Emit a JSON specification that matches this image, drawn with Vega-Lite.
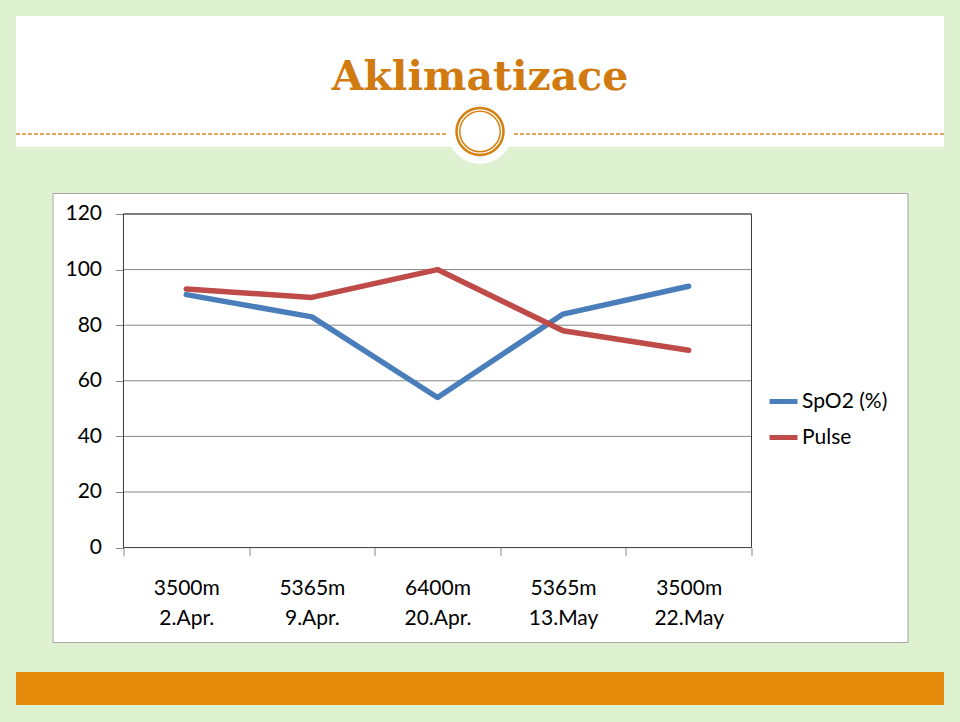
{
  "$schema": "https://vega.github.io/schema/vega-lite/v6.json",
  "background": "#DEF1D0",
  "padding": {"left": 15, "top": 16, "right": 17, "bottom": 17},
  "autosize": {"type": "pad"},
  "bounds": "flush",
  "spacing": 46,
  "config": {"view": {"stroke": null}, "font": "Lato"},
  "datasets": {
    "series": [
      {"idx": 0, "altitude": "3500m", "date": "2.Apr.", "series": "SpO2 (%)", "value": 91},
      {"idx": 1, "altitude": "5365m", "date": "9.Apr.", "series": "SpO2 (%)", "value": 83},
      {"idx": 2, "altitude": "6400m", "date": "20.Apr.", "series": "SpO2 (%)", "value": 54},
      {"idx": 3, "altitude": "5365m", "date": "13.May", "series": "SpO2 (%)", "value": 84},
      {"idx": 4, "altitude": "3500m", "date": "22.May", "series": "SpO2 (%)", "value": 94},
      {"idx": 0, "altitude": "3500m", "date": "2.Apr.", "series": "Pulse", "value": 93},
      {"idx": 1, "altitude": "5365m", "date": "9.Apr.", "series": "Pulse", "value": 90},
      {"idx": 2, "altitude": "6400m", "date": "20.Apr.", "series": "Pulse", "value": 100},
      {"idx": 3, "altitude": "5365m", "date": "13.May", "series": "Pulse", "value": 78},
      {"idx": 4, "altitude": "3500m", "date": "22.May", "series": "Pulse", "value": 71}
    ],
    "grid": [{"value": 20}, {"value": 40}, {"value": 60}, {"value": 80}, {"value": 100}, {"value": 120}]
  },
  "vconcat": [
    {
      "width": 928,
      "height": 131,
      "view": {"fill": "white", "stroke": null},
      "data": {"values": [{}]},
      "layer": [
        {
          "mark": {"type": "rule", "stroke": "#D98A2B", "strokeDash": [4, 2], "strokeWidth": 1.5},
          "encoding": {
            "x": {"datum": 0, "type": "quantitative", "scale": {"domain": [0, 1], "nice": false, "zero": false}, "axis": null},
            "x2": {"datum": 1},
            "y": {"datum": 0.099, "type": "quantitative", "scale": {"domain": [0, 1], "nice": false, "zero": false}, "axis": null}
          }
        },
        {
          "mark": {"type": "point", "filled": true, "fill": "white", "opacity": 1, "size": 4200, "strokeWidth": 0},
          "encoding": {
            "x": {"datum": 0.5, "type": "quantitative", "scale": {"domain": [0, 1], "nice": false, "zero": false}, "axis": null},
            "y": {"datum": 0.118, "type": "quantitative", "scale": {"domain": [0, 1], "nice": false, "zero": false}, "axis": null}
          }
        },
        {
          "mark": {"type": "point", "filled": false, "stroke": "#D4800F", "opacity": 1, "size": 2209, "strokeWidth": 2.5},
          "encoding": {
            "x": {"datum": 0.5, "type": "quantitative", "scale": {"domain": [0, 1], "nice": false, "zero": false}, "axis": null},
            "y": {"datum": 0.118, "type": "quantitative", "scale": {"domain": [0, 1], "nice": false, "zero": false}, "axis": null}
          }
        },
        {
          "mark": {"type": "point", "filled": false, "stroke": "#D4800F", "opacity": 1, "size": 1640, "strokeWidth": 1.5},
          "encoding": {
            "x": {"datum": 0.5, "type": "quantitative", "scale": {"domain": [0, 1], "nice": false, "zero": false}, "axis": null},
            "y": {"datum": 0.118, "type": "quantitative", "scale": {"domain": [0, 1], "nice": false, "zero": false}, "axis": null}
          }
        },
        {
          "mark": {"type": "text", "text": "Aklimatizace", "font": "DejaVu Serif", "fontWeight": "bold", "fontSize": 41, "color": "#D07A10", "align": "center", "baseline": "middle"},
          "encoding": {
            "x": {"datum": 0.5, "type": "quantitative", "scale": {"domain": [0, 1], "nice": false, "zero": false}, "axis": null},
            "y": {"datum": 0.53, "type": "quantitative", "scale": {"domain": [0, 1], "nice": false, "zero": false}, "axis": null}
          }
        }
      ]
    },
    {
      "bounds": "flush",
      "spacing": 30,
      "center": true,
      "vconcat": [
        {
          "width": 855,
          "height": 449,
          "view": {"fill": "white", "stroke": "#A6A6A6", "strokeWidth": 1},
          "layer": [
            {
              "data": {"name": "grid"},
              "mark": {"type": "rule", "color": "#868686", "strokeWidth": 1},
              "encoding": {
                "x": {"datum": -0.5, "type": "quantitative", "scale": {"domain": [-1.065, 5.742], "nice": false, "zero": false}},
                "x2": {"datum": 4.5},
                "y": {
                  "field": "value", "type": "quantitative",
                  "scale": {"domain": [-33.96, 127.55], "nice": false, "zero": false},
                  "axis": {"values": [0, 20, 40, 60, 80, 100, 120], "offset": -71, "domain": false, "grid": false, "ticks": true, "tickSize": 8, "tickColor": "#868686", "labelPadding": 14, "labelFont": "Lato", "labelFontSize": 21, "labelColor": "#000000", "title": null}
                }
              }
            },
            {
              "data": {"values": [{}]},
              "mark": {"type": "rect", "fill": null, "fillOpacity": 0, "stroke": "#3A3A3A", "strokeWidth": 1},
              "encoding": {
                "x": {"datum": -0.5, "type": "quantitative", "scale": {"domain": [-1.065, 5.742], "nice": false, "zero": false}},
                "x2": {"datum": 4.5},
                "y": {"datum": 0, "type": "quantitative", "scale": {"domain": [-33.96, 127.55], "nice": false, "zero": false}},
                "y2": {"datum": 120}
              }
            },
            {
              "data": {"name": "series"},
              "mark": {"type": "line", "strokeWidth": 5.5, "strokeCap": "round", "strokeJoin": "round"},
              "encoding": {
                "x": {
                  "field": "idx", "type": "quantitative",
                  "scale": {"domain": [-1.065, 5.742], "nice": false, "zero": false},
                  "axis": {
                    "values": [-0.5, 0, 0.5, 1, 1.5, 2, 2.5, 3, 3.5, 4, 4.5],
                    "offset": -94.4, "domain": false, "grid": false, "tickSize": 8, "tickColor": "#868686",
                    "tickOpacity": {"condition": {"test": "datum.value % 1 === 0", "value": 0}, "value": 1},
                    "labelExpr": "datum.value % 1 === 0 ? [['3500m','5365m','6400m','5365m','3500m'][datum.value], ['2.Apr.','9.Apr.','20.Apr.','13.May','22.May'][datum.value]] : ''",
                    "labelFont": "Lato", "labelFontSize": 21, "labelLineHeight": 30, "labelPadding": 22, "labelColor": "#000000",
                    "labelOverlap": false, "labelBound": false, "labelFlush": false, "title": null
                  }
                },
                "y": {
                  "field": "value", "type": "quantitative",
                  "scale": {"domain": [-33.96, 127.55], "nice": false, "zero": false},
                  "axis": {"values": [0, 20, 40, 60, 80, 100, 120], "offset": -71, "domain": false, "grid": false, "ticks": true, "tickSize": 8, "tickColor": "#868686", "labelPadding": 14, "labelFont": "Lato", "labelFontSize": 21, "labelColor": "#000000", "title": null}
                },
                "color": {
                  "field": "series", "type": "nominal",
                  "scale": {"domain": ["SpO2 (%)", "Pulse"], "range": ["#4A7EBB", "#BE4B48"]},
                  "legend": {"title": null, "orient": "none", "legendX": 751, "legendY": 369, "symbolType": "stroke", "symbolSize": 784, "symbolStrokeWidth": 5, "labelFont": "Lato", "labelFontSize": 21, "labelColor": "#000000", "labelOffset": 2, "rowPadding": 9, "padding": 0}
                }
              }
            }
          ]
        },
        {
          "width": 928,
          "height": 33,
          "view": {"fill": "#E5890B", "stroke": null},
          "data": {"values": [{}]},
          "mark": {"type": "point", "opacity": 0}
        }
      ]
    }
  ]
}
